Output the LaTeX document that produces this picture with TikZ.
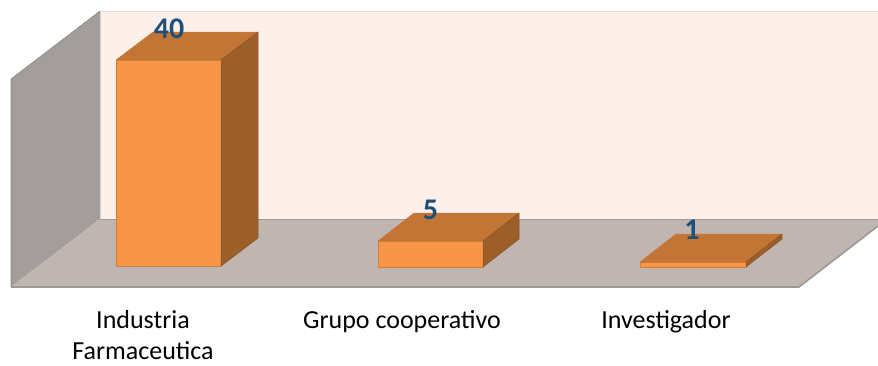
\documentclass[tikz,border=0pt]{standalone}
\usepackage{fontspec}
\setmainfont{Carlito}
\definecolor{backwall}{HTML}{FDEFE9}
\definecolor{sidewall}{HTML}{A39E9B}
\definecolor{floorc}{HTML}{BFB5B1}
\definecolor{edgec}{HTML}{9C9896}
\definecolor{barfront}{HTML}{F79646}
\definecolor{bartop}{HTML}{C27534}
\definecolor{barside}{HTML}{9D5F2A}
\definecolor{valc}{HTML}{1F4E79}
\tikzset{
  wallface/.style={line width=0.6pt, line join=round},
  frontface/.style={fill=barfront, draw=barfront!85!black, line width=0.5pt, line join=round},
  topface/.style={fill=bartop, draw=bartop!80!barfront, line width=0.5pt, line join=round},
  sideface/.style={fill=barside, draw=barside!85!black, line width=0.5pt, line join=round},
  vallabel/.style={font=\fontsize{30}{36}\selectfont\bfseries, text=valc, anchor=base, inner sep=0pt},
  catlabel/.style={font=\fontsize{26}{31}\selectfont, text=black, anchor=base, inner sep=0pt, align=center}
}
\begin{document}
\begin{tikzpicture}[x=1pt,y=-1pt]
\useasboundingbox (0,0) rectangle (878,365);
% back wall
\fill[backwall] (100,11) rectangle (878,219);
\draw[wallface, draw=backwall!80!gray] (100,219) -- (100,11) -- (878,11);
% left wall
\fill[sidewall] (11,79) -- (100,11) -- (100,219) -- (11,287) -- cycle;
\draw[wallface, draw=sidewall!85!black] (11,287) -- (11,79) -- (100,11);
% floor
\fill[floorc] (11,287) -- (100,219) -- (878,219) -- (878,226) -- (799,287) -- cycle;
\draw[line width=0.8pt, draw=floorc!85!black] (100,219) -- (878,219);
\draw[line width=1.6pt, draw=edgec, line join=round] (11,287) -- (799,287) -- (878,226);
% bar 1
\path[frontface] (116,60) rectangle (221,266);
\path[topface] (116,60) -- (221,60) -- (258,32) -- (153,32) -- cycle;
\path[sideface] (221,60) -- (258,32) -- (258,238) -- (221,266) -- cycle;
% bar 2
\path[frontface] (378,241) rectangle (483,267);
\path[topface] (378,241) -- (483,241) -- (519,213) -- (414,213) -- cycle;
\path[sideface] (483,241) -- (519,213) -- (519,239) -- (483,267) -- cycle;
% bar 3
\path[frontface] (640,262) rectangle (746,267);
\path[topface] (640,262) -- (746,262) -- (782,234) -- (676,234) -- cycle;
\path[sideface] (746,262) -- (782,234) -- (782,239) -- (746,267) -- cycle;
% values
\node[vallabel] (v1) at (169,38) {40};
\node[vallabel] (v2) at (430.5,219) {5};
\node[vallabel] (v3) at (692,239) {1};
% categories
\node[catlabel] (c1) at (143,359) {Industria\\Farmaceutica};
\node[catlabel] (c2) at (402,328) {Grupo cooperativo};
\node[catlabel] (c3) at (666,328) {Investigador};
\end{tikzpicture}
\end{document}
